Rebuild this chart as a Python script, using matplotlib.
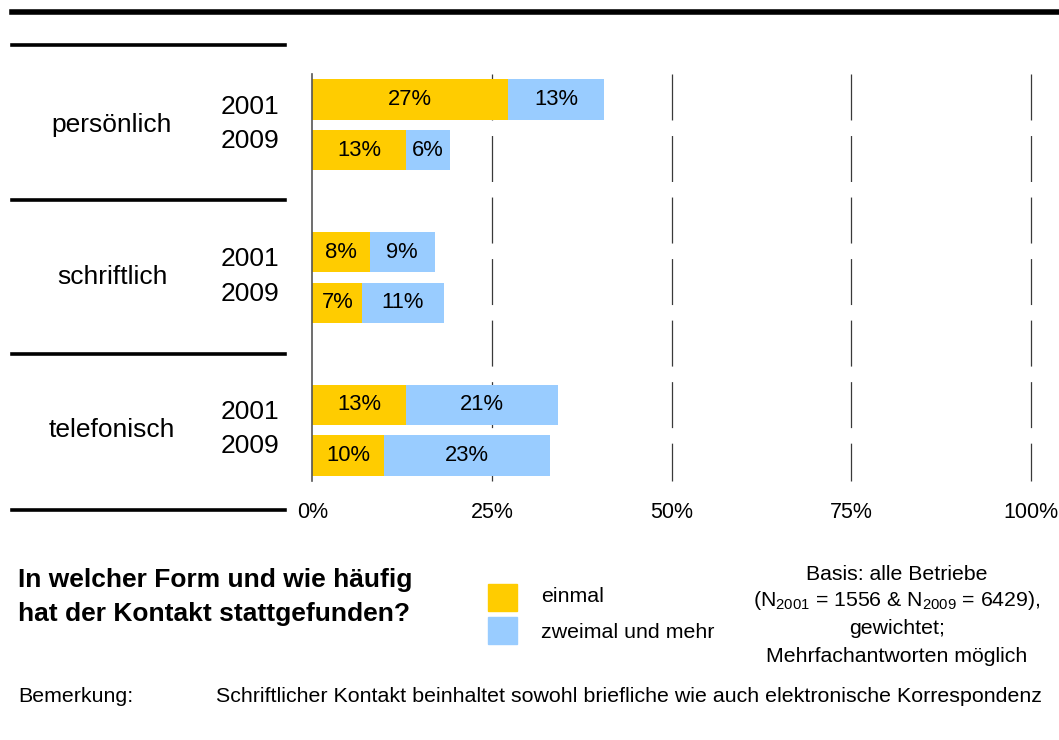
import matplotlib
matplotlib.use("Agg")
import matplotlib.pyplot as plt
from matplotlib.patches import Rectangle
from matplotlib.lines import Line2D
import matplotlib.transforms as mtransforms

plt.rcParams['font.family'] = ['Liberation Sans', 'DejaVu Sans']
plt.rcParams['mathtext.fontset'] = 'custom'
plt.rcParams['mathtext.rm'] = 'Liberation Sans'
plt.rcParams['lines.scale_dashes'] = False

# ---- data ----
categories = ["persönlich", "schriftlich", "telefonisch"]
years = ["2001", "2009"]
einmal = [[27.2, 13.0], [8.0, 6.9], [13.0, 10.0]]
zweimal = [[13.4, 6.2], [9.0, 11.4], [21.2, 23.1]]
xticks = [0, 25, 50, 75, 100]
xticklabels = ["0%", "25%", "50%", "75%", "100%"]
series_names = ["einmal", "zweimal und mehr"]

YELLOW = "#FFCC00"
BLUE = "#99CCFF"

W, H = 1059, 740
fig = plt.figure(figsize=(W / 100, H / 100), dpi=100)

def fx(px):
    return px / W

def fy(py):
    return 1 - py / H

ax = fig.add_axes([fx(312.5), fy(481), fx(1031) - fx(312.5), fy(74) - fy(481)])
ax.set_xlim(0, 100)
ax.set_ylim(7.0, -1.0)

# grid lines (dashed)
for xv in xticks[1:]:
    ax.plot([xv, xv], [-1.0, 7.0], color="#3a3a3a", lw=0.9,
            dashes=(33.1, 11.2), zorder=1, solid_capstyle='butt', clip_on=False)

bar_h = 0.79
for g, cat in enumerate(categories):
    for k in range(2):
        y = 3 * g + (k - 0.5)
        a = einmal[g][k]
        b = zweimal[g][k]
        ax.barh(y, a, height=bar_h, left=0, color=YELLOW, zorder=2)
        ax.barh(y, b, height=bar_h, left=a, color=BLUE, zorder=2)
        ax.text(a / 2, y, f"{a:.0f}%", ha="center", va="center",
                fontsize=15.8, zorder=3)
        ax.text(a + b / 2, y, f"{b:.0f}%", ha="center", va="center",
                fontsize=15.8, zorder=3)

for s in ["top", "right", "bottom"]:
    ax.spines[s].set_visible(False)
ax.spines["left"].set_color("#555555")
ax.spines["left"].set_linewidth(1.2)
ax.set_yticks([])
ax.set_xticks(xticks)
ax.set_xticklabels(xticklabels, fontsize=15.5)
ax.tick_params(axis="x", length=0, pad=15)

# category and year labels
tr = mtransforms.blended_transform_factory(fig.transFigure, ax.transData)
for g, cat in enumerate(categories):
    yc = 3 * g
    ax.text(fx(112), yc, cat, transform=tr, ha="center", va="center",
            fontsize=19)
    ax.text(fx(279), yc - 0.36, years[0], transform=tr, ha="right",
            va="center", fontsize=19)
    ax.text(fx(279), yc + 0.32, years[1], transform=tr, ha="right",
            va="center", fontsize=19)

# decorative lines
fig.add_artist(Line2D([fx(12), fx(1059)], [fy(12), fy(12)], color="black",
                      lw=4.0, transform=fig.transFigure))
for py in [45, 200, 354, 510]:
    fig.add_artist(Line2D([fx(12), fx(285)], [fy(py), fy(py)], color="black",
                          lw=2.6, transform=fig.transFigure))

# title
fig.text(fx(18), fy(580), "In welcher Form und wie häufig", fontsize=19,
         fontweight="bold", ha="left", va="center")
fig.text(fx(18), fy(614), "hat der Kontakt stattgefunden?", fontsize=19,
         fontweight="bold", ha="left", va="center")

# legend
fig.add_artist(Rectangle((fx(488), fy(611)), fx(517) - fx(488), fy(584) - fy(611),
                         transform=fig.transFigure, color=YELLOW))
fig.add_artist(Rectangle((fx(488), fy(644)), fx(517) - fx(488), fy(617) - fy(644),
                         transform=fig.transFigure, color=BLUE))
fig.text(fx(541), fy(597), series_names[0], fontsize=15.4, ha="left", va="center")
fig.text(fx(541), fy(632), series_names[1], fontsize=15.4, ha="left", va="center")

# basis note
fig.text(fx(897), fy(574), "Basis: alle Betriebe", fontsize=15.3, ha="center", va="center")
fig.text(fx(897), fy(600),
         r"(N$\mathregular{_{2001}}$ = 1556 & N$\mathregular{_{2009}}$ = 6429),",
         fontsize=15.3, ha="center", va="center")
fig.text(fx(897), fy(628), "gewichtet;", fontsize=15.3, ha="center", va="center")
fig.text(fx(897), fy(656), "Mehrfachantworten möglich", fontsize=15.3, ha="center", va="center")

# remark
fig.text(fx(18), fy(696), "Bemerkung:", fontsize=15.4, ha="left", va="center")
fig.text(fx(216), fy(696),
         "Schriftlicher Kontakt beinhaltet sowohl briefliche wie auch elektronische Korrespondenz",
         fontsize=15.4, ha="left", va="center")

fig.savefig("out.png", dpi=100)
